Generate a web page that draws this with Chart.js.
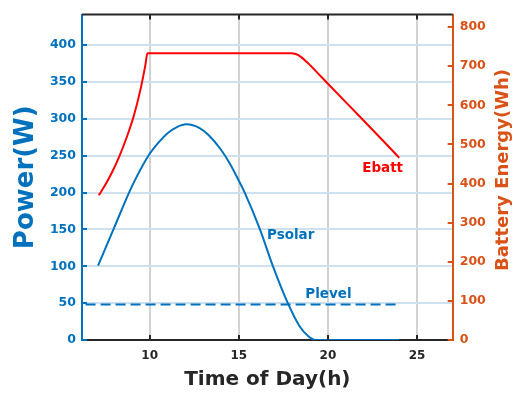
<!DOCTYPE html>
<html>
<head>
<meta charset="utf-8">
<script src="https://cdn.jsdelivr.net/npm/chart.js@4/dist/chart.umd.min.js"></script>
<style>
  html, body { margin: 0; padding: 0; background: #ffffff; }
  #wrap { width: 516px; height: 398px; position: relative; }
</style>
</head>
<body>
<div id="wrap"><canvas id="c" width="516" height="398"></canvas></div>
<script>
// ---- data ----
const hoursSolar = [7.1, 8.0, 8.84, 9.3, 9.9, 10.5, 11.0, 11.5, 12.06, 12.8, 13.3, 14.0, 14.5, 15.0, 15.33, 16.17, 16.9, 17.75, 18.4, 18.9, 19.3, 20, 21, 22, 23, 24];
const pSolar     = [101, 152, 200, 223, 249, 268, 280.5, 288.5, 292.5, 287.5, 278, 258, 239, 216, 200, 151, 101, 50, 19, 5, 0, 0, 0, 0, 0, 0];

const hoursBatt = [7.14, 7.5, 7.9, 8.3, 8.7, 9.1, 9.48, 9.76, 9.87, 17.9, 18.2, 18.5, 18.8, 19.2, 19.6, 20, 22, 24];
const eBatt     = [370, 396, 430, 470, 517, 572, 640, 704, 733, 733, 731, 723, 711, 693, 674, 655, 561, 466];

const hoursLevel = [6.4, 24];
const pLevel     = [48, 48];

const xTicks      = [10, 15, 20, 25];
const powerTicks  = [0, 50, 100, 150, 200, 250, 300, 350, 400];
const energyTicks = [0, 100, 200, 300, 400, 500, 600, 700, 800];

// ---- styles ----
const BLUE = '#0072BD', ORANGE = '#D95319', RED = '#FF0000', DARK = '#262626';
const FONT = 'DejaVu Sans';

const pts = (xs, ys) => xs.map((x, i) => ({ x: x, y: ys[i] }));

const labels = [
  { text: 'Psolar', x: 16.58, y: 137.4, axis: 'y',  color: BLUE },
  { text: 'Plevel', x: 18.73, y: 56.6,  axis: 'y',  color: BLUE },
  { text: 'Ebatt',  x: 21.92, y: 428.5, axis: 'y2', color: RED }
];

const decor = {
  id: 'decor',
  afterDatasetsDraw(chart) {
    const { ctx, chartArea: a, scales } = chart;
    ctx.save();
    ctx.strokeStyle = DARK; ctx.lineWidth = 2;
    ctx.beginPath(); ctx.moveTo(a.left, a.top); ctx.lineTo(a.right, a.top); ctx.stroke();
    xTicks.forEach(v => {
      const px = Math.round(scales.x.getPixelForValue(v));
      ctx.beginPath(); ctx.moveTo(px, a.bottom); ctx.lineTo(px, a.bottom - 5); ctx.stroke();
      ctx.beginPath(); ctx.moveTo(px, a.top); ctx.lineTo(px, a.top + 5); ctx.stroke();
    });
    ctx.strokeStyle = BLUE;
    powerTicks.forEach(v => {
      const py = Math.round(scales.y.getPixelForValue(v));
      ctx.beginPath(); ctx.moveTo(a.left, py); ctx.lineTo(a.left + 5, py); ctx.stroke();
    });
    ctx.strokeStyle = ORANGE;
    energyTicks.forEach(v => {
      const py = Math.round(scales.y2.getPixelForValue(v));
      ctx.beginPath(); ctx.moveTo(a.right, py); ctx.lineTo(a.right - 5, py); ctx.stroke();
    });
    ctx.font = 'bold 13.5px "' + FONT + '"';
    ctx.textAlign = 'left'; ctx.textBaseline = 'alphabetic';
    labels.forEach(l => {
      ctx.fillStyle = l.color;
      ctx.fillText(l.text, scales.x.getPixelForValue(l.x), scales[l.axis].getPixelForValue(l.y));
    });
    ctx.fillStyle = ORANGE;
    ctx.font = 'bold 18px "' + FONT + '"';
    ctx.textAlign = 'center'; ctx.textBaseline = 'middle';
    ctx.translate(503, 170);
    ctx.rotate(-Math.PI / 2);
    ctx.fillText('Battery Energy(Wh)', 0, 0);
    ctx.restore();
  }
};

new Chart(document.getElementById('c'), {
  type: 'line',
  data: {
    datasets: [
      { label: 'Psolar', data: pts(hoursSolar, pSolar), yAxisID: 'y', borderColor: BLUE, borderWidth: 2,
        pointRadius: 0, fill: false, cubicInterpolationMode: 'monotone' },
      { label: 'Plevel', data: pts(hoursLevel, pLevel), yAxisID: 'y', borderColor: BLUE, borderWidth: 2,
        borderDash: [10, 5], pointRadius: 0, fill: false, tension: 0 },
      { label: 'Ebatt', data: pts(hoursBatt, eBatt), yAxisID: 'y2', borderColor: RED, borderWidth: 2,
        pointRadius: 0, fill: false, cubicInterpolationMode: 'monotone' }
    ]
  },
  options: {
    responsive: false,
    animation: false,
    events: [],
    layout: { padding: { top: 10, left: 0, right: 0, bottom: 0 } },
    plugins: { legend: { display: false }, tooltip: { enabled: false } },
    scales: {
      x: {
        type: 'linear', min: 6.2, max: 27,
        afterBuildTicks: s => { s.ticks = xTicks.map(v => ({ value: v })); },
        afterFit: s => { s.height = 58; },
        grid: { color: '#d2d2d2', lineWidth: 2, drawTicks: false },
        border: { color: DARK, width: 2 },
        ticks: { color: DARK, padding: 9, font: { family: FONT, size: 12, weight: 'bold' }, maxRotation: 0 },
        title: { display: true, text: 'Time of Day(h)', color: DARK, padding: { top: 0, bottom: 6 },
                 font: { family: FONT, size: 20, weight: 'bold' } }
      },
      y: {
        type: 'linear', position: 'left', min: 0, max: 441.5,
        afterBuildTicks: s => { s.ticks = powerTicks.map(v => ({ value: v })); },
        afterFit: s => { s.width = 82; },
        grid: { color: '#cfe1ef', lineWidth: 2, drawTicks: false },
        border: { color: BLUE, width: 2 },
        ticks: { color: BLUE, padding: 6, font: { family: FONT, size: 12.5, weight: 'bold' } },
        title: { display: true, text: 'Power(W)', color: BLUE, padding: { top: 11, bottom: 0 },
                 font: { family: FONT, size: 26, weight: 'bold' } }
      },
      y2: {
        type: 'linear', position: 'right', min: 0, max: 832,
        afterBuildTicks: s => { s.ticks = energyTicks.map(v => ({ value: v })); },
        afterFit: s => { s.width = 63.3; },
        grid: { display: false, drawTicks: false },
        border: { color: ORANGE, width: 2 },
        ticks: { color: ORANGE, padding: 7, font: { family: FONT, size: 12.5, weight: 'bold' } }
      }
    }
  },
  plugins: [decor]
});
</script>
</body>
</html>
